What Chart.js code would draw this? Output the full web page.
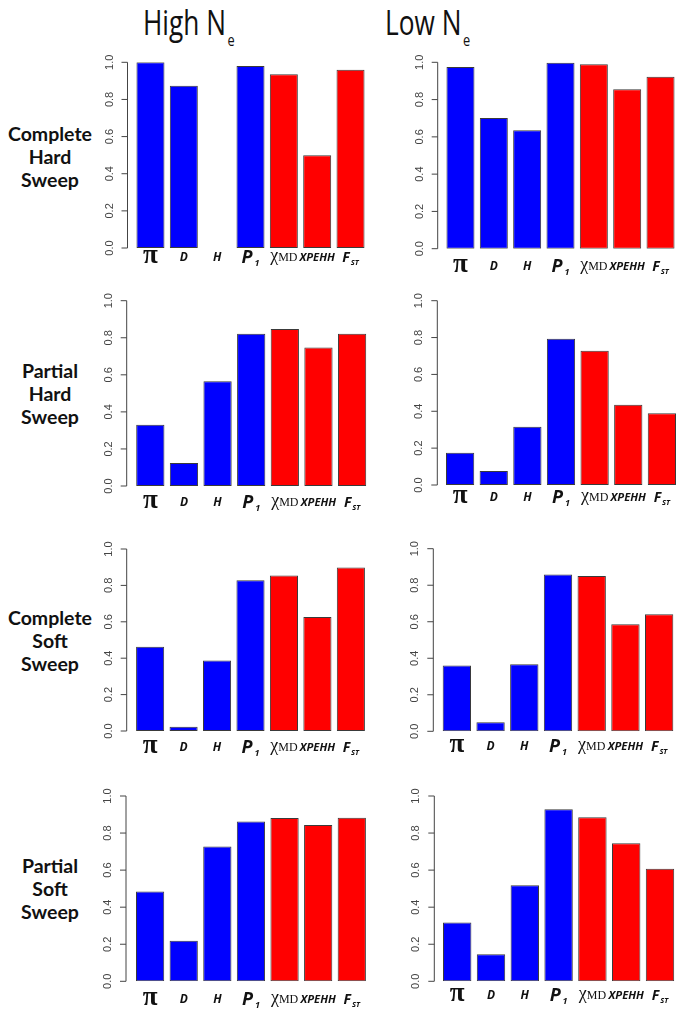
<!DOCTYPE html>
<html>
<head>
<meta charset="utf-8">
<script src="https://cdn.jsdelivr.net/npm/chart.js@4.4.1/dist/chart.umd.min.js"></script>
<style>
  html, body { margin:0; padding:0; background:#fff; }
  body { width:686px; height:1019px; position:relative; overflow:hidden; }
  canvas { position:absolute; }
  .head { position:absolute; font-family:"Open Sans", sans-serif; font-size:35px; line-height:35px; color:#111; white-space:nowrap; transform-origin:left top; transform:scaleX(0.75); }
  .head sub { font-size:17px; vertical-align:-11px; margin-left:2px; }
  .row { position:absolute; left:0; width:100px; text-align:center; font-family:Lato, "Open Sans", sans-serif; font-weight:bold; font-size:19.5px; line-height:23px; color:#111; }
</style>
</head>
<body>
<div class="head" style="left:143px; top:4px;">High N<sub>e</sub></div>
<div class="head" style="left:385px; top:4px;">Low N<sub>e</sub></div>
<div class="row" style="top:122px;">Complete<br>Hard<br>Sweep</div>
<div class="row" style="top:359px;">Partial<br>Hard<br>Sweep</div>
<div class="row" style="top:606px;">Complete<br>Soft<br>Sweep</div>
<div class="row" style="top:854px;">Partial<br>Soft<br>Sweep</div>

<script>
// ---- data ----
const categories = ['π', 'D', 'H', 'P1', 'χMD', 'XPEHH', 'FST'];
const highCompleteHard = [1.000, 0.874, 0.000, 0.980, 0.935, 0.500, 0.960];
const lowCompleteHard  = [0.975, 0.701, 0.635, 0.998, 0.989, 0.855, 0.923];
const highPartialHard  = [0.331, 0.124, 0.565, 0.822, 0.847, 0.748, 0.822];
const lowPartialHard   = [0.175, 0.076, 0.316, 0.794, 0.729, 0.436, 0.389];
const highCompleteSoft = [0.463, 0.024, 0.388, 0.828, 0.855, 0.626, 0.899];
const lowCompleteSoft  = [0.361, 0.049, 0.367, 0.859, 0.850, 0.586, 0.641];
const highPartialSoft  = [0.484, 0.219, 0.728, 0.863, 0.881, 0.844, 0.883];
const lowPartialSoft   = [0.317, 0.146, 0.518, 0.928, 0.885, 0.745, 0.608];
const yTickValues = [0, 0.2, 0.4, 0.6, 0.8, 1.0];
const yTickLabels = ['0.0', '0.2', '0.4', '0.6', '0.8', '1.0'];

// ---- styling / layout ----
const barColors = ['#0000ff', '#0000ff', '#0000ff', '#0000ff', '#ff0000', '#ff0000', '#ff0000'];
const panels = [
  { data: highCompleteHard, L:133.8, R:367.2, T:62.3,  B:248.0, gap:6.3, lab:12.5 },
  { data: lowCompleteHard,  L:443.8, R:677.2, T:62.3,  B:248.7, gap:6.1, lab:21.5 },
  { data: highPartialHard,  L:133.5, R:368.9, T:300.7, B:486.0, gap:6.8, lab:19.5 },
  { data: lowPartialHard,   L:443.3, R:678.7, T:300.7, B:485.0, gap:6.0, lab:15.5 },
  { data: highCompleteSoft, L:133.4, R:367.6, T:549.0, B:731.0, gap:6.7, lab:19.5 },
  { data: lowCompleteSoft,  L:440.0, R:676.0, T:548.7, B:731.3, gap:6.7, lab:18.5 },
  { data: highPartialSoft,  L:133.3, R:368.6, T:796.0, B:981.3, gap:7.3, lab:21.5 },
  { data: lowPartialSoft,   L:440.3, R:676.9, T:796.0, B:981.3, gap:6.0, lab:17.5 }
];

const BI = (s) => 'italic bold ' + s + 'px "Open Sans", sans-serif';
const SERIF = (s) => s + 'px "Liberation Serif", "DejaVu Serif", serif';
const labelPieces = {
  'π':     [{ t:'π', f:'bold ' + SERIF(27), dy:2 }],
  'D':     [{ t:'D', f:BI(12), dy:0 }],
  'H':     [{ t:'H', f:BI(12), dy:0 }],
  'P1':    [{ t:'P', f:BI(18), dy:2 }, { t:'1', f:BI(9), dy:5, dx:2 }],
  'χMD':   [{ t:'χ', f:SERIF(18), dy:0 }, { t:'MD', f:SERIF(12), dy:0 }],
  'XPEHH': [{ t:'XPEHH', f:BI(11.2), dy:0 }],
  'FST':   [{ t:'F', f:BI(14), dy:1 }, { t:'ST', f:BI(7.5), dy:4, dx:1 }]
};

const rAxesPlugin = {
  id: 'rAxes',
  afterDraw(chart, args, opts) {
    const ctx = chart.ctx;
    const ys = chart.scales.y, xs = chart.scales.x;
    const ax = chart.chartArea.left - opts.gap;
    ctx.save();
    ctx.strokeStyle = '#444';
    ctx.lineWidth = 1;
    ctx.beginPath();
    ctx.moveTo(ax, ys.getPixelForValue(yTickValues[0]));
    ctx.lineTo(ax, ys.getPixelForValue(yTickValues[yTickValues.length - 1]));
    yTickValues.forEach(v => {
      const y = ys.getPixelForValue(v);
      ctx.moveTo(ax, y); ctx.lineTo(ax - 6, y);
    });
    ctx.stroke();
    ctx.fillStyle = '#444';
    ctx.font = '11px "Liberation Sans", Arial, sans-serif';
    ctx.textAlign = 'center';
    ctx.textBaseline = 'middle';
    yTickValues.forEach((v, i) => {
      const y = ys.getPixelForValue(v);
      ctx.save();
      ctx.translate(ax - 18, y);
      ctx.rotate(-Math.PI / 2);
      ctx.fillText(yTickLabels[i], 0, 0);
      ctx.restore();
    });
    ctx.fillStyle = '#111';
    ctx.textAlign = 'left';
    ctx.textBaseline = 'alphabetic';
    const base = ys.getPixelForValue(0) + opts.lab;
    chart.data.labels.forEach((lbl, i) => {
      const pcs = labelPieces[lbl];
      let w = 0;
      pcs.forEach(p => { ctx.font = p.f; p.w = ctx.measureText(p.t).width; w += p.w + (p.dx || 0); });
      let x = xs.getPixelForValue(i) - w / 2;
      pcs.forEach(p => {
        x += (p.dx || 0);
        ctx.font = p.f;
        ctx.fillText(p.t, x, base + p.dy);
        x += p.w;
      });
    });
    ctx.restore();
  }
};

panels.forEach(p => {
  const padL = 60, padT = 12, padR = 4, padB = 40;
  const cl = Math.floor(p.L) - padL;
  const ct = Math.floor(p.T) - padT;
  const cw = Math.ceil(p.R) + padR - cl;
  const ch = Math.ceil(p.B) + padB - ct;
  const cv = document.createElement('canvas');
  cv.width = cw; cv.height = ch;
  cv.style.left = cl + 'px'; cv.style.top = ct + 'px';
  cv.style.width = cw + 'px'; cv.style.height = ch + 'px';
  document.body.appendChild(cv);
  new Chart(cv, {
    type: 'bar',
    data: {
      labels: categories,
      datasets: [{
        data: p.data,
        backgroundColor: barColors,
        borderColor: '#3a3a3a',
        borderWidth: 1,
        borderSkipped: false,
        barPercentage: 0.84,
        categoryPercentage: 1.0
      }]
    },
    options: {
      responsive: false,
      animation: false,
      devicePixelRatio: 1,
      layout: { padding: {
        left: p.L - cl, top: p.T - ct,
        right: cw - (p.R - cl), bottom: ch - (p.B - ct)
      } },
      plugins: { legend: { display:false }, tooltip: { enabled:false }, rAxes: { gap: p.gap, lab: p.lab } },
      scales: {
        x: { type:'category', display:false, offset:true },
        y: { display:false, min:0, max:1 }
      }
    },
    plugins: [rAxesPlugin]
  });
});
</script>
</body>
</html>
